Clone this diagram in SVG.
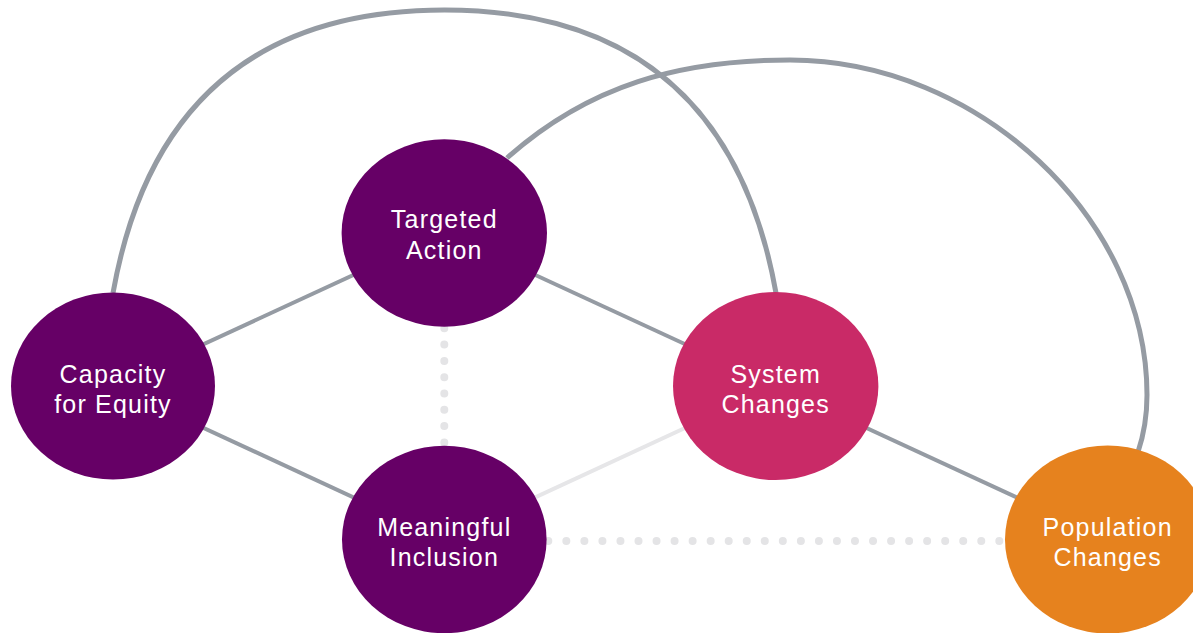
<svg xmlns="http://www.w3.org/2000/svg" width="1193" height="633" viewBox="0 0 1193 633">
  <style>
    .arc { fill: none; stroke: #959BA3; stroke-width: 5; }
    .link { fill: none; stroke: #959BA3; stroke-width: 4; }
    .light { fill: none; stroke: #E6E6E8; stroke-width: 4; }
    .dots { fill: none; stroke: #E4E4E6; stroke-width: 8; stroke-linecap: round; }
    .purple { fill: #660066; }
    .pink { fill: #C92A67; }
    .orange { fill: #E6821E; }
    .label { fill: #FFFFFF; font-family: "Liberation Sans", Arial, sans-serif; font-size: 25px; letter-spacing: 1.2px; text-anchor: middle; }
  </style>
  <rect width="1193" height="633" fill="#FFFFFF"/>
  <g id="connectors">
    <path class="arc" d="M113,293 C146,108 254,10 444.5,10 C635,10 743,108 776,293"/>
    <path class="arc" d="M507,158 C589,85 680,60 790,60 C978,60 1147,218 1147,395 C1147,420 1143,437 1138,452"/>
    <line class="link" x1="113" y1="386" x2="444.3" y2="233"/>
    <line class="link" x1="444.3" y1="233" x2="775.7" y2="386"/>
    <line class="link" x1="113" y1="386" x2="444.3" y2="539.5"/>
    <line class="light" x1="444.3" y1="539.5" x2="775.7" y2="386"/>
    <line class="link" x1="775.7" y1="386" x2="1107.7" y2="539.5"/>
    <line class="dots" x1="444.3" y1="328.3" x2="444.3" y2="442.4" stroke-dasharray="0 16.3"/>
    <line class="dots" x1="548.3" y1="541" x2="999.4" y2="541" stroke-dasharray="0 18.04"/>
  </g>
  <g id="capacity-for-equity">
    <ellipse class="purple" cx="113" cy="386" rx="102" ry="93.5"/>
    <text class="label" x="113" y="382.5">Capacity</text>
    <text class="label" x="113" y="412.5">for Equity</text>
  </g>
  <g id="targeted-action">
    <ellipse class="purple" cx="444.3" cy="233" rx="102.7" ry="93.7"/>
    <text class="label" x="444.3" y="228">Targeted</text>
    <text class="label" x="444.3" y="258.5">Action</text>
  </g>
  <g id="meaningful-inclusion">
    <ellipse class="purple" cx="444.3" cy="539.5" rx="102.3" ry="93.7"/>
    <text class="label" x="444.3" y="535.5">Meaningful</text>
    <text class="label" x="444.3" y="565.5">Inclusion</text>
  </g>
  <g id="system-changes">
    <ellipse class="pink" cx="775.7" cy="386" rx="102.7" ry="94"/>
    <text class="label" x="775.7" y="382.5">System</text>
    <text class="label" x="775.7" y="412.5">Changes</text>
  </g>
  <g id="population-changes">
    <ellipse class="orange" cx="1107.7" cy="539.5" rx="102.7" ry="94"/>
    <text class="label" x="1107.7" y="535.5">Population</text>
    <text class="label" x="1107.7" y="565.5">Changes</text>
  </g>
</svg>
